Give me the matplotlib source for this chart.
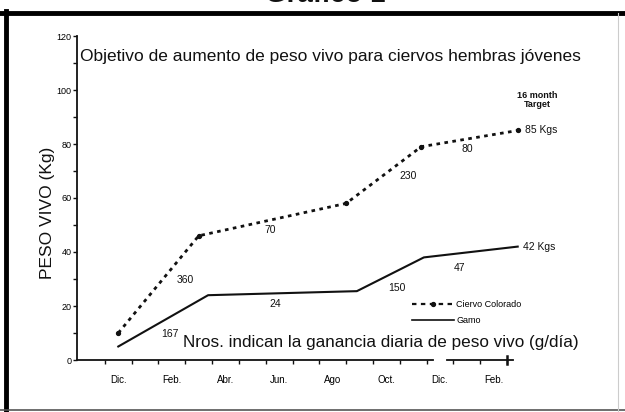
import matplotlib.pyplot as plt
from matplotlib.lines import Line2D

plt.rcParams['font.family'] = ['Liberation Sans', 'DejaVu Sans']

# months counted from December (0) at the left of the axis
month_labels = ['Dic.', 'Feb.', 'Abr.', 'Jun.', 'Ago', 'Oct.', 'Dic.', 'Feb.']

colorado_x = [0.5, 3.5, 9.0, 11.8, 15.4]
colorado_kg = [10, 46, 58, 79, 85]
colorado_gain = [360, 70, 230, 80]

gamo_x = [0.5, 3.85, 9.4, 11.9, 15.4]
gamo_kg = [5, 24, 25.5, 38, 42]
gamo_gain = [167, 24, 150, 47]

# label offsets (pixels) from the middle of each segment
colorado_off = [(27, 4), (-2, -10), (24, -1), (-2, -10)]
gamo_off = [(7, -13), (-7, -11), (7, -14), (-11, -16)]

fig = plt.figure(figsize=(6.25, 4.12), dpi=100)
ax = fig.add_axes([77 / 625, 1 - 360 / 412, (560.6 - 77) / 625, 324 / 412])
ax.set_xlim(-1.04, 17.0)
ax.set_ylim(0, 120)

ink = '#111111'

ax.plot(colorado_x, colorado_kg, color=ink, lw=2.0, linestyle=(0, (1.3, 1.6)),
        marker='o', markersize=2.8, clip_on=False)
ax.plot(gamo_x, gamo_kg, color=ink, lw=1.5, clip_on=False)

for xs, ys, gains, offs in [(colorado_x, colorado_kg, colorado_gain, colorado_off),
                            (gamo_x, gamo_kg, gamo_gain, gamo_off)]:
    for i, g in enumerate(gains):
        mx = (xs[i] + xs[i + 1]) / 2
        my = (ys[i] + ys[i + 1]) / 2
        ax.annotate(str(g), (mx, my), xytext=offs[i], textcoords='offset pixels',
                    ha='center', va='center', fontsize=7.5, color=ink)

# end values
ax.annotate(f'{colorado_kg[-1]} Kgs', (colorado_x[-1], colorado_kg[-1]), xytext=(7, 0),
            textcoords='offset pixels', va='center', fontsize=7.5, color=ink)
ax.annotate(f'{gamo_kg[-1]} Kgs', (gamo_x[-1], gamo_kg[-1]), xytext=(5, 0),
            textcoords='offset pixels', va='center', fontsize=7.5, color=ink)
ax.annotate('16 month\nTarget', (colorado_x[-1], colorado_kg[-1]), xytext=(20, 30),
            textcoords='offset pixels', ha='center', va='center', fontsize=6.5,
            fontweight='bold', color=ink, linespacing=1.0)

# axes styling
for s in ['top', 'right', 'bottom']:
    ax.spines[s].set_visible(False)
ax.spines['left'].set_color(ink)
ax.spines['left'].set_linewidth(1.3)

# broken x axis line
ax.plot([-1.04, 12.24], [0, 0], color=ink, lw=1.3, clip_on=False)
ax.plot([12.76, 15.22], [0, 0], color=ink, lw=1.3, clip_on=False)
ax.plot([15, 15], [-1.6, 1.6], color=ink, lw=1.8, clip_on=False)

ax.set_xticks(range(16))
ax.set_xticklabels([])
ax.set_xticks([0.5 + 2 * i for i in range(len(month_labels))], minor=True)
ax.set_xticklabels(month_labels, minor=True, fontsize=7)
ax.tick_params(axis='x', which='major', direction='out', length=3, width=1, color=ink)
ax.tick_params(axis='x', which='minor', length=0, pad=11)

ax.set_yticks(range(0, 121, 20))
ax.set_yticklabels([str(v) for v in range(0, 121, 20)], fontsize=6.5)
ax.set_yticks(range(10, 120, 20), minor=True)
ax.tick_params(axis='y', which='both', direction='out', length=3, width=1, color=ink, pad=1)

ax.set_ylabel('PESO VIVO (Kg)', fontsize=12.5, color=ink)
ax.yaxis.set_label_coords(-0.046, 0.454)

# legend
handles = [Line2D([], [], color=ink, lw=1.6, linestyle=(0, (2, 2)), marker='o',
                  markersize=2.8, markevery=[0]),
           Line2D([], [], color=ink, lw=1.2)]
leg = ax.legend(handles, ['Ciervo Colorado', 'Gamo'], loc='upper left',
                bbox_to_anchor=(0.693, 0.185), frameon=False, fontsize=6.5,
                handlelength=4.6, handletextpad=0.3, labelspacing=0.8, borderpad=0,
                borderaxespad=0)

fig.text(80 / 625, 1 - 57 / 412, 'Objetivo de aumento de peso vivo para ciervos hembras jóvenes',
         fontsize=12.5, color=ink, va='center')
fig.text(183 / 625, 1 - 342 / 412, 'Nros. indican la ganancia diaria de peso vivo (g/día)',
         fontsize=12.3, color=ink, va='center')
fig.text(0.52, 1 - 8 / 412, 'Gráfico 1', fontsize=20, fontweight='bold', ha='center',
         va='bottom', color=ink)

# scan frame
fig.add_artist(Line2D([0, 1], [1 - 13 / 412, 1 - 13 / 412], transform=fig.transFigure,
                      color='black', lw=3.5))
fig.add_artist(Line2D([5.5 / 625, 5.5 / 625], [0, 1 - 11 / 412], transform=fig.transFigure,
                      color='black', lw=3.5))
fig.add_artist(Line2D([0, 1], [2 / 412, 2 / 412], transform=fig.transFigure,
                      color='#555555', lw=1.2))
fig.add_artist(Line2D([618 / 625, 618 / 625], [0, 1 - 13 / 412], transform=fig.transFigure,
                      color='#cccccc', lw=0.8))

plt.savefig('out.png', dpi=100)
